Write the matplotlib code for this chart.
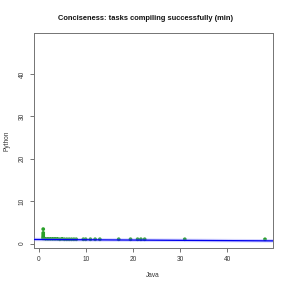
import numpy as np
import matplotlib
matplotlib.use("Agg")
import matplotlib.pyplot as plt

plt.rcParams['font.family'] = ['Liberation Sans', 'DejaVu Sans']

# per-task minimum ratios
java = [1, 1, 1, 1, 1, 1, 1.5, 2, 2.5, 3, 3.5, 4, 4.5, 5, 5.5, 6, 6.5, 7, 7.5, 8,
        9.5, 10, 11, 12, 13, 17, 19.5, 21, 21.7, 22.5, 31, 48]
python = [3.4, 2.5, 2.1, 1.7, 1.4, 1.2, 1.1, 1.1, 1.1, 1.1, 1.1, 1.1, 1.0, 1.1, 1.0, 1.0, 1.0, 1.0, 1.0, 1.0,
          1.0, 1.0, 1.0, 1.0, 1.0, 1.0, 1.0, 1.0, 1.0, 1.0, 1.0, 1.0]
fit_x = [-1.06, 49.7]
fit_y = [0.95, 0.62]

fig = plt.figure(figsize=(291 / 72, 291 / 72), dpi=72)
ax = fig.add_axes([33.5 / 291, 1 - 248 / 291, (273 - 33.5) / 291, (248 - 33) / 291])

ax.scatter(java, python, s=14, color='#2aa02a', edgecolors='none', zorder=2)
ax.plot(fit_x, fit_y, color='#8888ff', lw=3.5, alpha=0.35, zorder=3)
ax.plot(fit_x, fit_y, color='#0000ee', lw=1.3, zorder=4)

ax.set_xlim(-1.06, 49.7)
ax.set_ylim(-1.06, 49.7)
ax.set_xticks([0, 10, 20, 30, 40])
ax.set_yticks([0, 10, 20, 30, 40])
ax.tick_params(labelsize=6.5, length=4, width=0.8, color='#555555', labelcolor='#333333', pad=4)
for lab in ax.get_yticklabels():
    lab.set_rotation(90)
    lab.set_va('center')
for sp in ax.spines.values():
    sp.set_color('#777777')
    sp.set_linewidth(1)

ax.set_xlabel("Java", fontsize=6.5, color='#333333', labelpad=9)
ax.set_ylabel("Python", fontsize=6.5, color='#333333', labelpad=8)
fig.text(0.5, 1 - 18 / 291, "Conciseness: tasks compiling successfully (min)",
         ha='center', va='center', fontsize=7.5, fontweight='bold', color='#111111')

fig.savefig("out.png", dpi=72)
